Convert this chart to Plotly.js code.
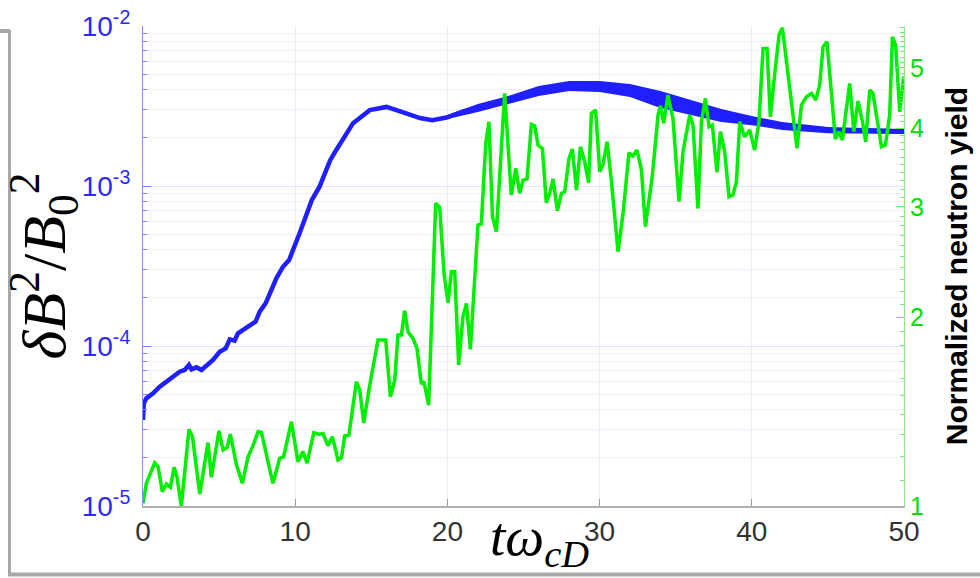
<!DOCTYPE html>
<html>
<head>
<meta charset="utf-8">
<script src="https://cdn.plot.ly/plotly-3.0.1.min.js"></script>
<style>
html,body{margin:0;padding:0;background:#fff;}
#chart{width:980px;height:578px;}
</style>
</head>
<body>
<div id="chart"></div>
<script>
// ---- magnetic energy  dB^2/B0^2 (left, log axis) ----
const tField = [0, 0.05, 0.22, 0.66, 1.1, 1.54, 1.97, 2.41, 2.74, 3.02, 3.18, 3.51, 3.84, 4.27, 4.6, 5.04, 5.43, 5.7, 6.02, 6.24, 6.57, 7.01, 7.4, 7.67, 8.06, 8.44, 8.76, 9.2, 9.6, 10.3, 11.1, 11.6, 12.3, 12.7, 13.8, 14.9, 16.0, 17.05, 18.2, 19.0, 19.95, 21, 22, 24, 26, 28, 30, 32, 34, 36, 38, 40, 42, 45, 50];
const fieldEnergy = [3.45e-5, 4.38e-5, 4.71e-5, 5.06e-5, 5.57e-5, 5.98e-5, 6.49e-5, 6.91e-5, 7.08e-5, 7.61e-5, 7.15e-5, 7.36e-5, 7.08e-5, 7.61e-5, 8.18e-5, 9.21e-5, 9.67e-5, 1.10e-4, 1.08e-4, 1.20e-4, 1.26e-4, 1.33e-4, 1.42e-4, 1.64e-4, 1.85e-4, 2.24e-4, 2.65e-4, 3.13e-4, 3.45e-4, 5.1e-4, 8.2e-4, 9.9e-4, 1.45e-3, 1.68e-3, 2.47e-3, 2.98e-3, 3.12e-3, 2.9e-3, 2.66e-3, 2.58e-3, 2.68e-3, 2.92e-3, 3.07e-3, 3.45e-3, 3.92e-3, 4.22e-3, 4.19e-3, 3.95e-3, 3.47e-3, 3.10e-3, 2.76e-3, 2.57e-3, 2.37e-3, 2.24e-3, 2.19e-3];

// fast-oscillation envelope of the same curve (upper / lower edge of the thick band)
const tBand = [20, 22, 24, 26, 28, 30, 32, 34, 36, 38, 40, 42, 45, 50];
const bandHi = [2.78e-3, 3.25e-3, 3.65e-3, 4.22e-3, 4.53e-3, 4.53e-3, 4.34e-3, 3.92e-3, 3.45e-3, 3.03e-3, 2.74e-3, 2.51e-3, 2.34e-3, 2.27e-3];
const bandLo = [2.62e-3, 2.90e-3, 3.25e-3, 3.65e-3, 3.92e-3, 3.87e-3, 3.60e-3, 3.07e-3, 2.78e-3, 2.51e-3, 2.40e-3, 2.24e-3, 2.14e-3, 2.11e-3];

// ---- normalized neutron yield (right, log axis) ----
const tYield = [0.00, 0.22, 0.77, 0.99, 1.27, 1.54, 1.80, 2.04, 2.23, 2.52, 3.02, 3.25, 3.73, 4.27, 4.49, 4.99, 5.26, 5.52, 5.74, 6.14, 6.53, 6.90, 7.23, 7.56, 7.78, 8.06, 8.54, 8.98, 9.24, 9.75, 10.18, 10.51, 10.78, 11.22, 11.56, 11.83, 12.15, 12.44, 12.81, 13.04, 13.25, 13.53, 14.02, 14.24, 14.50, 14.90, 15.44, 15.95, 16.25, 16.54, 16.75, 16.98, 17.19, 17.41, 17.74, 18.00, 18.29, 18.46, 18.77, 19.23, 19.49, 19.78, 20.04, 20.26, 20.48, 20.74, 21.02, 21.25, 21.51, 22.01, 22.23, 22.52, 22.73, 22.96, 23.22, 23.76, 24.20, 24.49, 24.75, 24.97, 25.23, 25.52, 25.74, 25.95, 26.24, 26.50, 26.72, 26.94, 27.23, 27.49, 27.71, 27.99, 28.21, 28.48, 28.74, 29.02, 29.28, 29.46, 29.74, 30.01, 30.22, 30.49, 30.77, 31.21, 31.54, 31.93, 32.19, 32.46, 32.75, 33.01, 33.47, 33.84, 34.00, 34.21, 34.49, 34.82, 35.22, 35.48, 35.92, 36.14, 36.46, 36.69, 36.95, 37.19, 37.41, 37.71, 37.94, 38.22, 38.50, 38.76, 38.99, 39.21, 39.53, 39.86, 40.19, 40.47, 40.74, 41.00, 41.22, 41.50, 41.79, 42.01, 42.27, 42.71, 42.97, 43.26, 43.59, 43.92, 44.20, 44.46, 44.68, 44.94, 45.23, 45.49, 45.73, 45.95, 46.43, 46.70, 46.98, 47.27, 47.48, 47.75, 47.96, 48.29, 48.52, 48.78, 49.06, 49.24, 49.45, 49.72, 49.98];
const neutronYield = [1.01, 1.087, 1.172, 1.155, 1.054, 1.084, 1.071, 1.153, 1.114, 1.0, 1.325, 1.290, 1.045, 1.262, 1.111, 1.318, 1.228, 1.239, 1.302, 1.163, 1.087, 1.198, 1.248, 1.314, 1.311, 1.228, 1.087, 1.191, 1.198, 1.363, 1.177, 1.221, 1.170, 1.309, 1.302, 1.305, 1.248, 1.290, 1.184, 1.194, 1.293, 1.298, 1.578, 1.531, 1.358, 1.560, 1.840, 1.840, 1.494, 1.589, 1.874, 1.874, 2.049, 1.897, 1.851, 1.784, 1.565, 1.579, 1.449, 3.040, 2.995, 2.350, 2.110, 2.364, 2.364, 1.679, 2.004, 2.105, 1.778, 2.807, 2.818, 3.789, 4.102, 2.893, 2.739, 4.551, 3.133, 3.456, 3.153, 3.311, 3.325, 4.063, 4.040, 3.765, 3.720, 3.046, 3.153, 3.325, 2.958, 3.153, 3.172, 3.585, 3.711, 3.192, 3.741, 3.541, 3.279, 4.230, 4.281, 3.414, 3.499, 3.811, 3.311, 2.545, 2.930, 3.660, 3.616, 3.697, 3.435, 2.790, 3.373, 4.204, 4.349, 4.078, 4.524, 4.153, 3.058, 3.674, 4.204, 4.052, 2.984, 4.102, 4.469, 4.027, 4.052, 3.406, 3.954, 3.674, 3.114, 3.133, 3.291, 4.102, 3.882, 3.979, 3.697, 4.102, 5.370, 5.370, 4.178, 4.869, 5.639, 5.792, 5.112, 4.254, 3.720, 4.361, 4.496, 4.551, 4.441, 4.693, 5.401, 5.502, 4.637, 3.849, 3.954, 3.835, 4.722, 3.954, 4.425, 4.102, 3.811, 4.608, 4.551, 4.052, 3.741, 3.765, 4.204, 5.604, 5.436, 4.254, 4.838];

// ---- tick labels ----
const xTicks = [0, 10, 20, 30, 40, 50];
const leftTickVals = [1e-5, 1e-4, 1e-3, 1e-2];
const leftTickText = ['10<sup>-5</sup>', '10<sup>-4</sup>', '10<sup>-3</sup>', '10<sup>-2</sup>'];
const rightTickVals = [1, 2, 3, 4, 5];
const rightTickText = ['1', '2', '3', '4', '5'];

// minor tick positions (styling)
const leftMinor = [];
for (let d = -5; d < -2; d++) for (let k = 2; k <= 9; k++) leftMinor.push(k * Math.pow(10, d));
const rightMinor = [];
for (let v = 11; v <= 58; v++) if (v % 10 !== 0) rightMinor.push(v / 10);

const BLUE = '#1f1fff';
const GREEN = '#00ee00';

// figure geometry (px) for decorative frame
const L = 143, R = 76, T = 26, B = 72, W = 980, H = 578;
const pw = W - L - R, ph = H - T - B;
const px = x => (x - L) / pw;
const py = y => (H - B - y) / ph;

const traces = [
  {x: tBand, y: bandLo, yaxis: 'y', mode: 'lines', line: {width: 0, color: BLUE}, hoverinfo: 'skip'},
  {x: tBand, y: bandHi, yaxis: 'y', mode: 'lines', line: {width: 0, color: BLUE}, fill: 'tonexty', fillcolor: BLUE, hoverinfo: 'skip'},
  {x: tField, y: fieldEnergy, yaxis: 'y', mode: 'lines', line: {color: BLUE, width: 4.5}, name: 'δB²/B0²'},
  {x: tYield, y: neutronYield, yaxis: 'y2', mode: 'lines', line: {color: GREEN, width: 3.5}, name: 'Normalized neutron yield'}
];

const frameColor = '#a8a8a8';
const layout = {
  width: W, height: H,
  margin: {l: L, r: R, t: T, b: B, pad: 0},
  paper_bgcolor: '#ffffff',
  plot_bgcolor: '#ffffff',
  showlegend: false,
  xaxis: {
    range: [0, 50], tickmode: 'array', tickvals: xTicks, ticktext: xTicks.map(String),
    ticks: 'inside', ticklen: 7, tickcolor: '#9a9a9a', tickwidth: 1,
    showline: true, linecolor: '#b0b0b0', linewidth: 1.5,
    showgrid: true, gridcolor: '#ebebf0', gridwidth: 1, zeroline: false,
    tickfont: {family: 'Liberation Sans, Arial, sans-serif', size: 28, color: '#333333'}
  },
  yaxis: {
    type: 'log', range: [-5, -2],
    tickmode: 'array', tickvals: leftTickVals, ticktext: leftTickText,
    ticks: 'inside', ticklen: 8, tickcolor: '#8080ff', tickwidth: 1,
    ticklabelstandoff: 6,
    showline: true, linecolor: '#8c8cff', linewidth: 1.2,
    showgrid: true, gridcolor: '#e2e2ff', gridwidth: 1, zeroline: false,
    minor: {tickmode: 'array', tickvals: leftMinor, ticks: 'inside', ticklen: 4, tickcolor: '#8080ff', showgrid: true, gridcolor: '#eeeeff', gridwidth: 1},
    tickfont: {family: 'Liberation Sans, Arial, sans-serif', size: 28, color: '#2a2aff'},
    title: {text: '<i>δB</i><sup>2</sup>/<i>B</i><sub>0</sub><sup>2</sup>', standoff: 0,
            font: {family: 'Liberation Serif, DejaVu Serif, serif', size: 62, color: '#000000'}}
  },
  yaxis2: {
    type: 'log', range: [0, Math.log10(5.83)], overlaying: 'y', side: 'right',
    tickmode: 'array', tickvals: rightTickVals, ticktext: rightTickText,
    ticks: 'inside', ticklen: 8, tickcolor: '#66ee66', tickwidth: 1,
    showline: true, linecolor: '#88ee88', linewidth: 1.2,
    showgrid: false, zeroline: false,
    minor: {tickmode: 'array', tickvals: rightMinor, ticks: 'inside', ticklen: 4, tickcolor: '#77ee77', showgrid: false},
    tickfont: {family: 'Liberation Sans, Arial, sans-serif', size: 25, color: '#00e000'},
    title: {text: '<b>Normalized neutron yield</b>', standoff: 22,
            font: {family: 'Liberation Sans, Arial, sans-serif', size: 30, color: '#000000'}}
  },
  annotations: [
    {text: '<i>tω</i><sub><i>cD</i></sub>', xref: 'paper', yref: 'paper',
     x: px(488), y: py(577), xanchor: 'left', yanchor: 'bottom', showarrow: false,
     font: {family: 'Liberation Serif, DejaVu Serif, serif', size: 55, color: '#000000'}}
  ],
  shapes: [
    {type: 'line', xref: 'paper', yref: 'paper', x0: px(0), x1: px(10), y0: py(31), y1: py(31), line: {color: frameColor, width: 4}, layer: 'below'},
    {type: 'line', xref: 'paper', yref: 'paper', x0: px(9.5), x1: px(9.5), y0: py(30), y1: py(574), line: {color: frameColor, width: 3}, layer: 'below'},
    {type: 'line', xref: 'paper', yref: 'paper', x0: px(8), x1: px(980), y0: py(574.5), y1: py(574.5), line: {color: frameColor, width: 4}, layer: 'below'}
  ]
};

Plotly.newPlot('chart', traces, layout, {displayModeBar: false});
</script>
</body>
</html>
